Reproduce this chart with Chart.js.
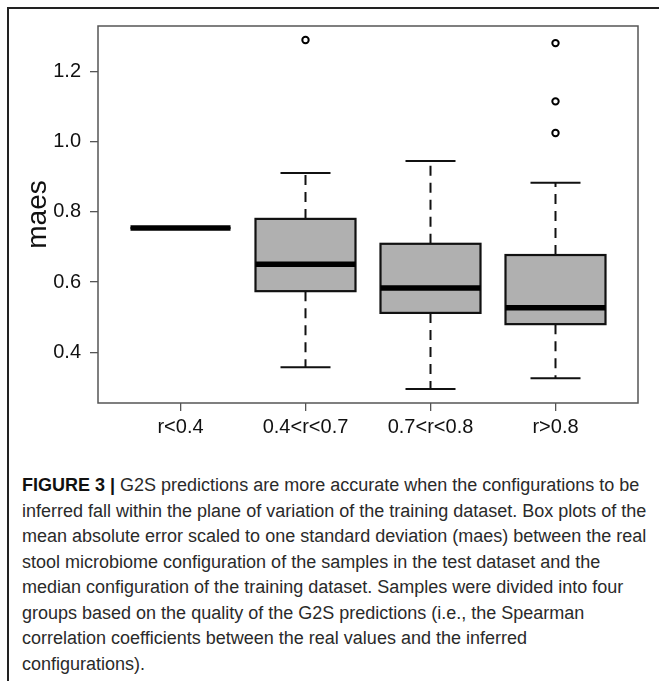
<!DOCTYPE html>
<html>
<head>
<meta charset="utf-8">
<script src="https://cdn.jsdelivr.net/npm/chart.js@4/dist/chart.umd.min.js"></script>
<style>
  body { margin: 0; background: #fff; }
  #page { position: relative; width: 659px; height: 681px; overflow: hidden; }
  #frame { position: absolute; left: 7px; top: 7px; width: 700px; height: 700px;
           border-left: 2px solid #222; border-top: 2px solid #222; }
  #chart { position: absolute; left: 0; top: 0; }
  #caption { position: absolute; left: 22px; top: 473px; width: 640px;
             font-family: "Liberation Sans", Arial, sans-serif; font-size: 18px;
             color: #2a2a2a; line-height: 25.5px; }
  #caption div { white-space: nowrap; }
  #caption b { font-weight: bold; color: #111; }
</style>
</head>
<body>
<div id="page">
  <div id="frame"></div>
  <canvas id="chart" width="659" height="445"></canvas>
  <div id="caption">
    <div><b>FIGURE 3 |</b> G2S predictions are more accurate when the configurations to be</div>
    <div>inferred fall within the plane of variation of the training dataset. Box plots of the</div>
    <div>mean absolute error scaled to one standard deviation (maes) between the real</div>
    <div>stool microbiome configuration of the samples in the test dataset and the</div>
    <div>median configuration of the training dataset. Samples were divided into four</div>
    <div>groups based on the quality of the G2S predictions (i.e., the Spearman</div>
    <div>correlation coefficients between the real values and the inferred</div>
    <div>configurations).</div>
  </div>
</div>
<script>
// box plot statistics
var categories = ["r<0.4", "0.4<r<0.7", "0.7<r<0.8", "r>0.8"];
var lowerWhisker = [0.754, 0.357, 0.295, 0.326];
var q1 = [0.754, 0.574, 0.512, 0.480];
var median = [0.754, 0.651, 0.583, 0.527];
var q3 = [0.754, 0.780, 0.709, 0.677];
var upperWhisker = [0.754, 0.911, 0.945, 0.883];
var outliers = [[], [1.290], [], [1.281, 1.115, 1.025]];
var yTicks = [0.4, 0.6, 0.8, 1.0, 1.2];

// R-style axis limits: data range extended by 4% on each side
var allValues = lowerWhisker.concat(upperWhisker, [].concat.apply([], outliers));
var yLo = Math.min.apply(null, allValues);
var yHi = Math.max.apply(null, allValues);
var yPad = (yHi - yLo) * 0.04;
var xPad = categories.length * 0.04;

var outlierPoints = [];
outliers.forEach(function(list, i) {
    list.forEach(function(v) {
        outlierPoints.push({ x: i + 1, y: v });
    });
});

var boxPlugin = {
    id: "boxes",
    beforeDatasetsDraw: function(chart) {
        var ctx = chart.ctx;
        var xs = chart.scales.x;
        var ys = chart.scales.y;
        var area = chart.chartArea;
        ctx.save();

        categories.forEach(function(c, i) {
            var pos = i + 1;
            var cx = xs.getPixelForValue(pos);
            var bl = xs.getPixelForValue(pos - 0.4);
            var br = xs.getPixelForValue(pos + 0.4);
            var sl = xs.getPixelForValue(pos - 0.2);
            var sr = xs.getPixelForValue(pos + 0.2);
            var yLw = ys.getPixelForValue(lowerWhisker[i]);
            var yQ1 = ys.getPixelForValue(q1[i]);
            var yMed = ys.getPixelForValue(median[i]);
            var yQ3 = ys.getPixelForValue(q3[i]);
            var yUw = ys.getPixelForValue(upperWhisker[i]);

            // whiskers
            ctx.strokeStyle = "#111";
            ctx.lineWidth = 2;
            ctx.setLineDash([10, 7]);
            ctx.beginPath();
            ctx.moveTo(cx, yQ3); ctx.lineTo(cx, yUw);
            ctx.moveTo(cx, yQ1); ctx.lineTo(cx, yLw);
            ctx.stroke();
            ctx.setLineDash([]);

            // staples
            ctx.beginPath();
            ctx.moveTo(sl, yUw); ctx.lineTo(sr, yUw);
            ctx.moveTo(sl, yLw); ctx.lineTo(sr, yLw);
            ctx.stroke();

            // box
            ctx.fillStyle = "#b0b0b0";
            ctx.fillRect(bl, yQ3, br - bl, yQ1 - yQ3);
            ctx.lineWidth = 2.2;
            ctx.strokeRect(bl, yQ3, br - bl, yQ1 - yQ3);

            // median
            ctx.lineWidth = 5.5;
            ctx.strokeStyle = "#000";
            ctx.beginPath();
            ctx.moveTo(bl, yMed); ctx.lineTo(br, yMed);
            ctx.stroke();
        });

        // plot frame
        ctx.strokeStyle = "#555";
        ctx.lineWidth = 1.5;
        ctx.strokeRect(area.left, area.top, area.right - area.left, area.bottom - area.top);
        ctx.restore();
    }
};

var ctx = document.getElementById("chart").getContext("2d");
var chart = new Chart(ctx, {
    type: "scatter",
    data: {
        datasets: [{
            label: "outliers",
            data: outlierPoints,
            pointStyle: "circle",
            pointRadius: 3.2,
            pointBorderWidth: 2,
            pointBorderColor: "#000",
            pointBackgroundColor: "#fff"
        }]
    },
    options: {
        responsive: false,
        animation: false,
        devicePixelRatio: 1,
        layout: { padding: { top: 26, right: 21, left: 0, bottom: 0 } },
        plugins: {
            legend: { display: false },
            tooltip: { enabled: false }
        },
        scales: {
            x: {
                type: "linear",
                min: 1 - 0.5 - xPad,
                max: categories.length + 0.5 + xPad,
                afterBuildTicks: function(scale) {
                    scale.ticks = categories.map(function(c, i) { return { value: i + 1 }; });
                },
                afterFit: function(scale) { scale.height = 42; },
                ticks: {
                    autoSkip: false,
                    maxRotation: 0,
                    padding: 4,
                    color: "#111",
                    font: { family: "Liberation Sans, Arial, sans-serif", size: 20 },
                    callback: function(v) { return categories[Math.round(v) - 1]; }
                },
                grid: { drawOnChartArea: false, drawTicks: true, tickLength: 8, color: "#555", lineWidth: 1.3 },
                border: { display: false }
            },
            y: {
                min: yLo - yPad,
                max: yHi + yPad,
                afterBuildTicks: function(scale) {
                    scale.ticks = yTicks.map(function(v) { return { value: v }; });
                },
                afterFit: function(scale) { scale.width = 98; },
                ticks: {
                    padding: 9,
                    color: "#111",
                    font: { family: "Liberation Sans, Arial, sans-serif", size: 20 },
                    callback: function(v) { return v.toFixed(1); }
                },
                grid: { drawOnChartArea: false, drawTicks: true, tickLength: 8, color: "#555", lineWidth: 1.3 },
                border: { display: false },
                title: {
                    display: true,
                    text: "maes",
                    color: "#111",
                    font: { family: "Liberation Sans, Arial, sans-serif", size: 28 },
                    padding: { top: 21, bottom: 0 }
                }
            }
        }
    },
    plugins: [boxPlugin]
});
</script>
</body>
</html>
